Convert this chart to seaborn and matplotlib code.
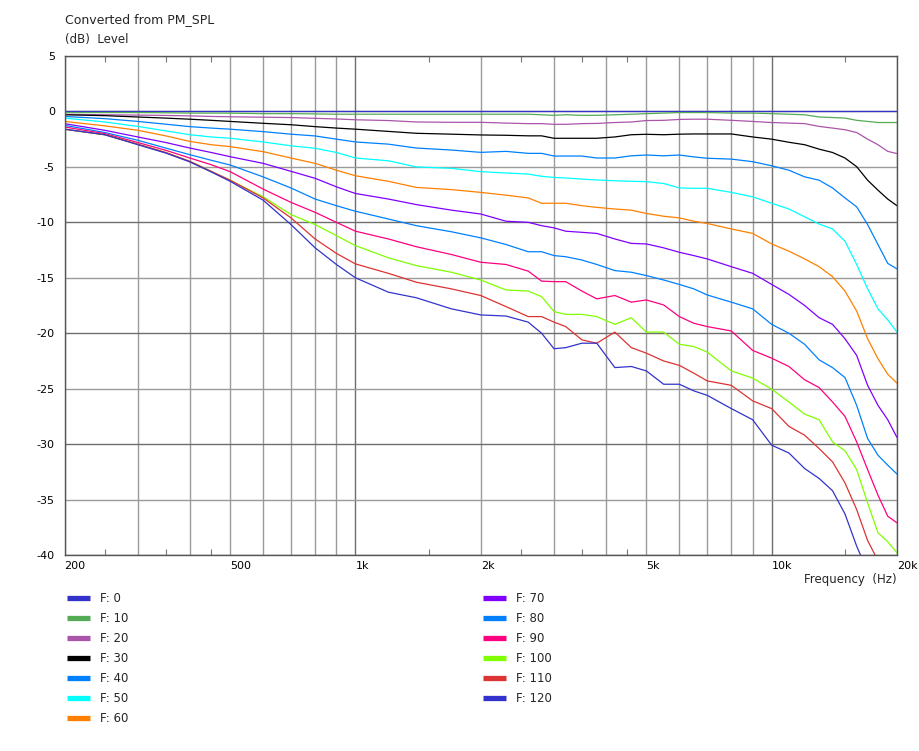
import numpy as np
import pandas as pd
import matplotlib
matplotlib.use("Agg")
import matplotlib.pyplot as plt
from matplotlib.ticker import FixedLocator, NullFormatter
import seaborn as sns

sns.set_style("white")
plt.rcParams['font.family'] = ['DejaVu Sans']

# ---- data ----
freqs = [200, 250, 300, 350, 400, 450, 500, 600, 700, 800, 900, 1000,
         1200, 1400, 1700, 2000, 2300, 2600, 2800, 3000, 3200, 3500, 3800,
         4200, 4600, 5000, 5500, 6000, 6500, 7000, 8000, 9000, 10000,
         11000, 12000, 13000, 14000, 15000, 16000, 17000, 18000, 19000, 20000]

level_f0 = [0, 0, 0, 0, 0, 0, 0, 0, 0, 0, 0, 0, 0, 0, 0, 0, 0, 0, 0, 0, 0, 0,
            0, 0, 0, 0, 0, 0, 0, 0, 0, 0, 0, 0, 0, 0, 0, 0, 0, 0, 0, 0, 0]
level_f10 = [-0.1, -0.1, -0.1, -0.12, -0.15, -0.15, -0.15, -0.2, -0.2, -0.22, -0.25, -0.25,
             -0.25, -0.25, -0.25, -0.25, -0.25, -0.25, -0.3, -0.35, -0.3, -0.35, -0.35,
             -0.3, -0.25, -0.2, -0.15, -0.1, -0.1, -0.1, -0.15, -0.15, -0.2,
             -0.25, -0.3, -0.5, -0.55, -0.6, -0.8, -0.9, -1.0, -1.0, -1.0]
level_f20 = [-0.26, -0.3, -0.33, -0.36, -0.4, -0.45, -0.48, -0.52, -0.55, -0.62, -0.68, -0.75,
             -0.82, -0.95, -0.98, -0.98, -1.05, -1.1, -1.1, -1.16, -1.16, -1.1, -1.08,
             -1.0, -0.95, -0.82, -0.8, -0.72, -0.7, -0.7, -0.8, -0.9, -1.0,
             -1.05, -1.1, -1.35, -1.5, -1.65, -1.9, -2.5, -3.0, -3.6, -3.8]
level_f30 = [-0.3, -0.38, -0.5, -0.6, -0.7, -0.8, -0.9, -1.07, -1.2, -1.37, -1.5, -1.6,
             -1.8, -1.97, -2.05, -2.12, -2.15, -2.2, -2.2, -2.42, -2.42, -2.42, -2.42,
             -2.3, -2.1, -2.06, -2.1, -2.05, -2.03, -2.03, -2.03, -2.3, -2.5,
             -2.78, -3.0, -3.4, -3.7, -4.2, -4.98, -6.2, -7.1, -7.9, -8.5]
level_f40 = [-0.45, -0.65, -0.9, -1.15, -1.37, -1.5, -1.6, -1.82, -2.05, -2.21, -2.5, -2.75,
             -2.95, -3.3, -3.48, -3.69, -3.6, -3.78, -3.78, -4.02, -4.02, -4.02, -4.2,
             -4.2, -4.0, -3.93, -4.0, -3.93, -4.1, -4.22, -4.3, -4.53, -4.9,
             -5.3, -5.9, -6.2, -6.9, -7.8, -8.6, -10.2, -12.0, -13.7, -14.2]
level_f50 = [-0.6, -0.95, -1.35, -1.75, -2.1, -2.3, -2.42, -2.75, -3.1, -3.32, -3.7, -4.2,
             -4.45, -5.0, -5.13, -5.43, -5.55, -5.65, -5.85, -5.95, -6.0, -6.1, -6.18,
             -6.25, -6.3, -6.33, -6.5, -6.9, -6.93, -6.93, -7.3, -7.7, -8.28,
             -8.8, -9.5, -10.15, -10.6, -11.7, -13.8, -16.0, -17.8, -18.8, -19.9]
level_f60 = [-0.9, -1.3, -1.7, -2.2, -2.7, -3.0, -3.17, -3.63, -4.2, -4.68, -5.3, -5.8,
             -6.3, -6.85, -7.05, -7.3, -7.55, -7.8, -8.28, -8.28, -8.28, -8.5, -8.65,
             -8.8, -8.9, -9.2, -9.45, -9.6, -9.9, -10.1, -10.6, -11.0, -11.95,
             -12.6, -13.3, -14.0, -14.9, -16.2, -18.0, -20.5, -22.3, -23.7, -24.5]
level_f70 = [-1.1, -1.7, -2.3, -2.8, -3.3, -3.7, -4.08, -4.68, -5.4, -6.03, -6.8, -7.4,
             -7.9, -8.4, -8.9, -9.25, -9.9, -10.0, -10.3, -10.5, -10.8, -10.9, -11.0,
             -11.5, -11.9, -11.95, -12.3, -12.7, -13.0, -13.3, -14.0, -14.6, -15.6,
             -16.5, -17.5, -18.6, -19.2, -20.5, -22.0, -24.7, -26.5, -27.8, -29.4]
level_f80 = [-1.25, -1.9, -2.6, -3.3, -3.9, -4.4, -4.83, -5.9, -6.9, -7.9, -8.5, -9.0,
             -9.7, -10.3, -10.85, -11.4, -12.0, -12.65, -12.65, -13.0, -13.1, -13.4, -13.8,
             -14.35, -14.5, -14.8, -15.2, -15.6, -16.0, -16.55, -17.2, -17.8, -19.2,
             -20.0, -21.0, -22.4, -23.1, -24.0, -26.5, -29.5, -31.0, -31.9, -32.7]
level_f90 = [-1.4, -2.0, -2.8, -3.5, -4.2, -4.8, -5.43, -7.0, -8.2, -9.1, -10.0, -10.8,
             -11.5, -12.2, -12.9, -13.6, -13.8, -14.4, -15.3, -15.35, -15.35, -16.2, -16.9,
             -16.6, -17.2, -17.0, -17.45, -18.5, -19.1, -19.4, -19.8, -21.55, -22.25,
             -23.0, -24.2, -24.9, -26.2, -27.5, -29.8, -32.3, -34.6, -36.5, -37.1]
level_f100 = [-1.6, -2.1, -2.95, -3.7, -4.5, -5.4, -6.2, -7.7, -9.3, -10.2, -11.2, -12.1,
              -13.2, -13.9, -14.5, -15.2, -16.1, -16.2, -16.7, -18.05, -18.3, -18.3, -18.5,
              -19.2, -18.6, -19.9, -19.9, -21.0, -21.2, -21.7, -23.4, -24.05, -25.05,
              -26.2, -27.3, -27.8, -29.8, -30.6, -32.3, -35.3, -38.0, -38.8, -39.8]
level_f110 = [-1.6, -2.1, -2.95, -3.7, -4.5, -5.4, -6.2, -7.8, -9.6, -11.5, -12.8, -13.75,
              -14.6, -15.4, -16.0, -16.6, -17.6, -18.5, -18.5, -19.0, -19.4, -20.6, -20.9,
              -19.9, -21.3, -21.8, -22.5, -22.9, -23.6, -24.3, -24.7, -26.1, -26.8,
              -28.4, -29.2, -30.4, -31.6, -33.5, -35.9, -38.7, -40.5, -42.0, -43.5]
level_f120 = [-1.6, -2.1, -3.0, -3.75, -4.55, -5.45, -6.3, -8.0, -10.2, -12.3, -13.8, -15.0,
              -16.3, -16.8, -17.8, -18.35, -18.45, -19.0, -20.0, -21.4, -21.3, -20.9, -20.9,
              -23.1, -23.0, -23.4, -24.6, -24.6, -25.2, -25.6, -26.8, -27.8, -30.1,
              -30.8, -32.2, -33.1, -34.2, -36.3, -39.2, -41.5, -43.0, -44.5, -46.0]

series_names = ["F: 0", "F: 10", "F: 20", "F: 30", "F: 40", "F: 50", "F: 60",
                "F: 70", "F: 80", "F: 90", "F: 100", "F: 110", "F: 120"]
series_values = [level_f0, level_f10, level_f20, level_f30, level_f40, level_f50, level_f60,
                 level_f70, level_f80, level_f90, level_f100, level_f110, level_f120]
series_colors = ["#3333cc", "#55aa55", "#aa55aa", "#000000", "#0080ff", "#00ffff", "#ff8000",
                 "#8000ff", "#0080ff", "#ff0080", "#80ff00", "#dd3333", "#3333cc"]

x_label_text = {200: "200", 500: "500", 1000: "1k", 2000: "2k", 5000: "5k",
                10000: "10k", 20000: "20k"}
x_grid = [200, 300, 400, 500, 600, 700, 800, 900, 1000, 2000, 3000, 4000, 5000,
          6000, 7000, 8000, 9000, 10000, 20000]
x_minor = [250, 350, 450, 1500, 2500, 3500, 4500, 15000]
y_ticks = [5, 0, -5, -10, -15, -20, -25, -30, -35, -40]

# long-form table for seaborn
rows = []
for name, vals in zip(series_names, series_values):
    for f, v in zip(freqs, vals):
        rows.append((name, f, v))
df = pd.DataFrame(rows, columns=["series", "freq", "level"])

# ---- figure ----
fig = plt.figure(figsize=(9.19, 7.51), dpi=100)
ax = fig.add_axes([64.5 / 919, 1 - 555 / 751, (897 - 64.5) / 919, (555 - 56) / 751])

sns.lineplot(data=df, x="freq", y="level", hue="series", hue_order=series_names,
             palette=dict(zip(series_names, series_colors)), linewidth=0.9,
             estimator=None, sort=True, legend=False, ax=ax)
plot_lines = list(ax.get_lines())

ax.set_xscale("log")
ax.set_xlim(200, 20000)
ax.set_ylim(-40, 5)
ax.set_xlabel("")
ax.set_ylabel("")

ax.xaxis.set_major_locator(FixedLocator(x_grid))
ax.set_xticklabels([x_label_text.get(v, "") for v in x_grid])
ax.xaxis.set_minor_locator(FixedLocator(x_minor))
ax.xaxis.set_minor_formatter(NullFormatter())
ax.set_yticks(y_ticks)
ax.set_yticklabels([str(v) for v in y_ticks])

ax.tick_params(axis="both", which="major", length=0, labelsize=8, colors="black")
ax.tick_params(axis="x", which="major", pad=4)
ax.tick_params(axis="y", which="major", pad=7)
ax.tick_params(axis="x", which="minor", direction="in", top=True, bottom=True,
               length=4, width=0.8, color="#777777")
for lab in ax.get_xticklabels():
    lab.set_ha("left")

ax.set_axisbelow(True)
ax.grid(True, which="major", linewidth=1.0)
for t, v in zip(ax.xaxis.get_major_ticks(), x_grid):
    t.gridline.set_color("#6e6e6e" if v in (1000, 10000) else "#9a9a9a")
for t, v in zip(ax.yaxis.get_major_ticks(), y_ticks):
    t.gridline.set_color("#6e6e6e" if v % 10 == 0 else "#9a9a9a")

for s in ax.spines.values():
    s.set_color("#555555")
    s.set_linewidth(1.0)

# titles
fig.text(65 / 919, 1 - 20 / 751, "Converted from PM_SPL", fontsize=9, va="center", ha="left")
fig.text(65 / 919, 1 - 39 / 751, "(dB)  Level", fontsize=8.5, va="center", ha="left")
fig.text(897 / 919, 1 - 579 / 751, "Frequency  (Hz)", fontsize=8.5, va="center", ha="right")

# legend, two columns
def add_legend(lines, labels, x0):
    leg = fig.legend(lines, labels, loc="upper left", bbox_to_anchor=(x0 / 919, 1 - 592 / 751),
                     frameon=False, fontsize=8.5, handlelength=1.95, handletextpad=0.85,
                     labelspacing=0.6, borderpad=0, borderaxespad=0)
    for ln in leg.get_lines():
        ln.set_linewidth(3.8)
        ln.set_solid_capstyle("butt")
    return leg

add_legend(plot_lines[:7], series_names[:7], 67)
add_legend(plot_lines[7:], series_names[7:], 483)

fig.savefig("out.png", dpi=100, facecolor="white")
